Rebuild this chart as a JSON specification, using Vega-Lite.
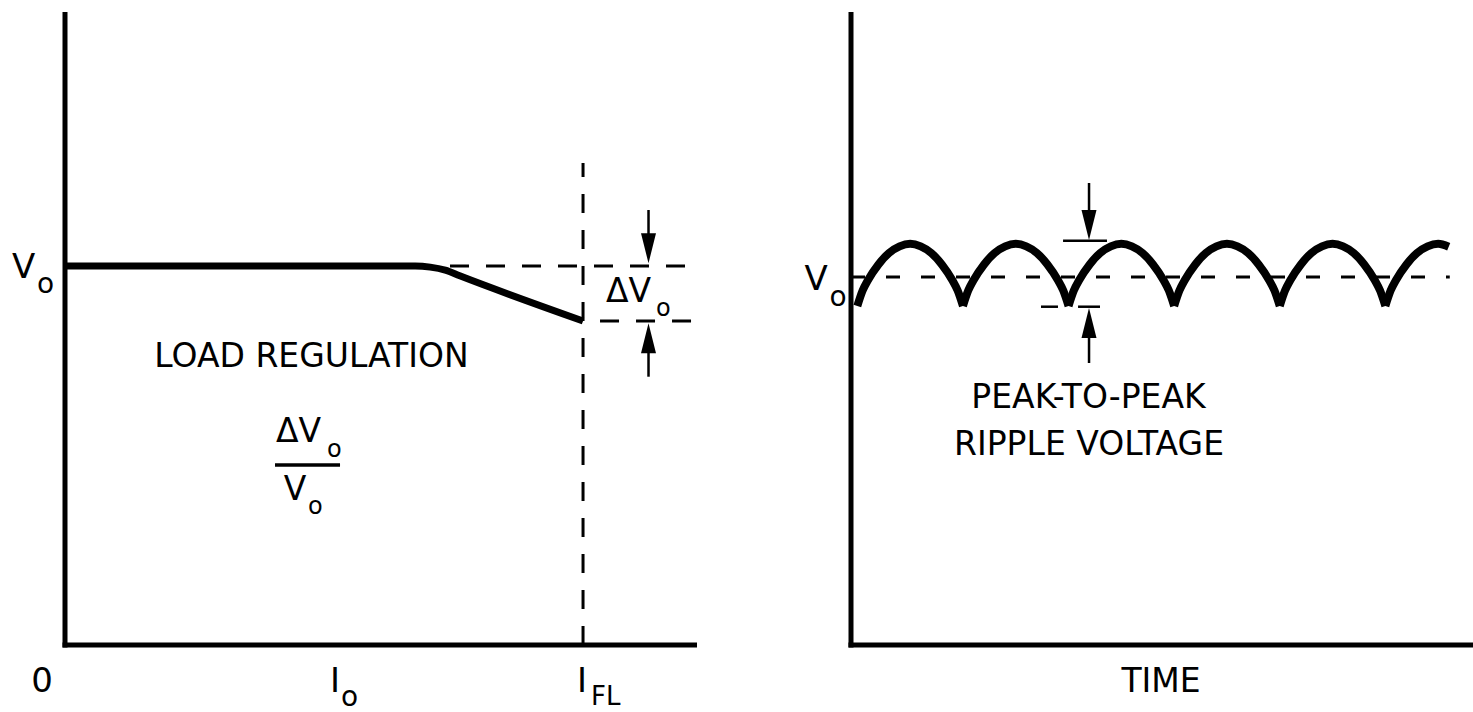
{
  "$schema": "https://vega.github.io/schema/vega-lite/v6.json",
  "width": 1473,
  "height": 712,
  "padding": 0,
  "autosize": {"type": "fit", "contains": "padding"},
  "background": "white",
  "config": {"view": {"stroke": null}},
  "layer": [
    {
      "layer": [
        {
          "data": {"values": [
            {"x": 0, "y": -0.0066, "x2": 0, "y2": 1.67},
            {"x": -0.0048, "y": 0, "x2": 1.22, "y2": 0}
          ]},
          "mark": {"type": "rule", "color": "black", "strokeWidth": 5},
          "encoding": {
            "x": {"field": "x", "type": "quantitative", "scale": {"domain": [0, 1.22], "range": [65, 697], "nice": false, "zero": false}, "axis": null},
            "y": {"field": "y", "type": "quantitative", "scale": {"domain": [0, 1.67], "range": [645, 12], "nice": false, "zero": false}, "axis": null},
            "x2": {"field": "x2"},
            "y2": {"field": "y2"}
          }
        },
        {
          "data": {"values": [
            {"x": 0.7432, "y": 1.0, "x2": 1.22, "y2": 1.0},
            {"x": 1.0328, "y": 0.8548, "x2": 1.22, "y2": 0.8548},
            {"x": 1.0, "y": 0, "x2": 1.0, "y2": 1.2716}
          ]},
          "mark": {"type": "rule", "color": "black", "strokeWidth": 3, "strokeDash": [19, 17]},
          "encoding": {
            "x": {"field": "x", "type": "quantitative", "scale": {"domain": [0, 1.22], "range": [65, 697], "nice": false, "zero": false}, "axis": null},
            "y": {"field": "y", "type": "quantitative", "scale": {"domain": [0, 1.67], "range": [645, 12], "nice": false, "zero": false}, "axis": null},
            "x2": {"field": "x2"},
            "y2": {"field": "y2"}
          }
        },
        {
          "data": {"values": [
            {"x": 1.1264, "y": 1.1476, "x2": 1.1264, "y2": 1.0466},
            {"x": 1.1264, "y": 0.7078, "x2": 1.1264, "y2": 0.8091}
          ]},
          "mark": {"type": "rule", "color": "black", "strokeWidth": 2.5},
          "encoding": {
            "x": {"field": "x", "type": "quantitative", "scale": {"domain": [0, 1.22], "range": [65, 697], "nice": false, "zero": false}, "axis": null},
            "y": {"field": "y", "type": "quantitative", "scale": {"domain": [0, 1.67], "range": [645, 12], "nice": false, "zero": false}, "axis": null},
            "x2": {"field": "x2"},
            "y2": {"field": "y2"}
          }
        },
        {
          "data": {"values": [
            {"x": 0.4054, "y": 0.4749, "x2": 0.5309, "y2": 0.4749}
          ]},
          "mark": {"type": "rule", "color": "black", "strokeWidth": 3.3},
          "encoding": {
            "x": {"field": "x", "type": "quantitative", "scale": {"domain": [0, 1.22], "range": [65, 697], "nice": false, "zero": false}, "axis": null},
            "y": {"field": "y", "type": "quantitative", "scale": {"domain": [0, 1.67], "range": [645, 12], "nice": false, "zero": false}, "axis": null},
            "x2": {"field": "x2"},
            "y2": {"field": "y2"}
          }
        },
        {
          "data": {"values": [
            {"current": 0, "vout": 1.0},
            {"current": 0.676, "vout": 1.0},
            {"current": 0.705, "vout": 0.997},
            {"current": 0.734, "vout": 0.989},
            {"current": 0.762, "vout": 0.974},
            {"current": 1.0, "vout": 0.8548}
          ]},
          "mark": {"type": "line", "color": "black", "strokeWidth": 7, "interpolate": "monotone", "strokeCap": "butt"},
          "encoding": {
            "x": {"field": "current", "type": "quantitative", "scale": {"domain": [0, 1.22], "range": [65, 697], "nice": false, "zero": false}, "axis": null},
            "y": {"field": "vout", "type": "quantitative", "scale": {"domain": [0, 1.67], "range": [645, 12], "nice": false, "zero": false}, "axis": null}
          }
        },
        {
          "data": {"values": [
            {"x": 1.1264, "y": 1.0466, "dir": "down"},
            {"x": 1.1264, "y": 0.8091, "dir": "up"}
          ]},
          "mark": {"type": "point", "filled": true, "color": "black", "opacity": 1, "size": 900, "strokeWidth": 0},
          "encoding": {
            "x": {"field": "x", "type": "quantitative", "scale": {"domain": [0, 1.22], "range": [65, 697], "nice": false, "zero": false}, "axis": null},
            "y": {"field": "y", "type": "quantitative", "scale": {"domain": [0, 1.67], "range": [645, 12], "nice": false, "zero": false}, "axis": null},
            "shape": {"field": "dir", "type": "nominal", "scale": {"domain": ["down", "up"], "range": ["M-0.5,-1L0.5,-1L0,1Z", "M-0.5,1L0.5,1L0,-1Z"]}, "legend": null}
          }
        },
        {
          "data": {"values": [
            {"x": 0.4758, "y": 0.7334, "label": "LOAD REGULATION"}
          ]},
          "mark": {"type": "text", "font": "DejaVu Sans", "fontSize": 33, "align": "center", "baseline": "alphabetic", "color": "black"},
          "encoding": {
            "x": {"field": "x", "type": "quantitative", "scale": {"domain": [0, 1.22], "range": [65, 697], "nice": false, "zero": false}, "axis": null},
            "y": {"field": "y", "type": "quantitative", "scale": {"domain": [0, 1.67], "range": [645, 12], "nice": false, "zero": false}, "axis": null},
            "text": {"field": "label"}
          }
        },
        {
          "data": {"values": [
            {"x": 0.4073, "y": 0.5363, "label": "ΔV"},
            {"x": 1.0443, "y": 0.9049, "label": "ΔV"},
            {"x": 0.4222, "y": 0.3825, "label": "V"}
          ]},
          "mark": {"type": "text", "font": "DejaVu Sans", "fontSize": 33, "align": "left", "baseline": "alphabetic", "color": "black"},
          "encoding": {
            "x": {"field": "x", "type": "quantitative", "scale": {"domain": [0, 1.22], "range": [65, 697], "nice": false, "zero": false}, "axis": null},
            "y": {"field": "y", "type": "quantitative", "scale": {"domain": [0, 1.67], "range": [645, 12], "nice": false, "zero": false}, "axis": null},
            "text": {"field": "label"}
          }
        },
        {
          "data": {"values": [
            {"x": -0.1023, "y": 0.9682, "label": "V"},
            {"x": 0.5116, "y": -0.124, "label": "I"},
            {"x": 0.9884, "y": -0.124, "label": "I"}
          ]},
          "mark": {"type": "text", "font": "DejaVu Sans", "fontSize": 34, "align": "left", "baseline": "alphabetic", "color": "black"},
          "encoding": {
            "x": {"field": "x", "type": "quantitative", "scale": {"domain": [0, 1.22], "range": [65, 697], "nice": false, "zero": false}, "axis": null},
            "y": {"field": "y", "type": "quantitative", "scale": {"domain": [0, 1.67], "range": [645, 12], "nice": false, "zero": false}, "axis": null},
            "text": {"field": "label"}
          }
        },
        {
          "data": {"values": [
            {"x": -0.0444, "y": -0.124, "label": "0"}
          ]},
          "mark": {"type": "text", "font": "DejaVu Sans", "fontSize": 34, "align": "center", "baseline": "alphabetic", "color": "black"},
          "encoding": {
            "x": {"field": "x", "type": "quantitative", "scale": {"domain": [0, 1.22], "range": [65, 697], "nice": false, "zero": false}, "axis": null},
            "y": {"field": "y", "type": "quantitative", "scale": {"domain": [0, 1.67], "range": [645, 12], "nice": false, "zero": false}, "axis": null},
            "text": {"field": "label"}
          }
        },
        {
          "data": {"values": [
            {"x": 0.5058, "y": 0.496, "label": "o"},
            {"x": 1.1409, "y": 0.868, "label": "o"},
            {"x": 0.4691, "y": 0.3456, "label": "o"}
          ]},
          "mark": {"type": "text", "font": "DejaVu Sans", "fontSize": 24, "align": "left", "baseline": "alphabetic", "color": "black"},
          "encoding": {
            "x": {"field": "x", "type": "quantitative", "scale": {"domain": [0, 1.22], "range": [65, 697], "nice": false, "zero": false}, "axis": null},
            "y": {"field": "y", "type": "quantitative", "scale": {"domain": [0, 1.67], "range": [645, 12], "nice": false, "zero": false}, "axis": null},
            "text": {"field": "label"}
          }
        },
        {
          "data": {"values": [
            {"x": -0.0541, "y": 0.9287, "label": "o"},
            {"x": 0.5328, "y": -0.1609, "label": "o"}
          ]},
          "mark": {"type": "text", "font": "DejaVu Sans", "fontSize": 28, "align": "left", "baseline": "alphabetic", "color": "black"},
          "encoding": {
            "x": {"field": "x", "type": "quantitative", "scale": {"domain": [0, 1.22], "range": [65, 697], "nice": false, "zero": false}, "axis": null},
            "y": {"field": "y", "type": "quantitative", "scale": {"domain": [0, 1.67], "range": [645, 12], "nice": false, "zero": false}, "axis": null},
            "text": {"field": "label"}
          }
        },
        {
          "data": {"values": [
            {"x": 1.0154, "y": -0.1583, "label": "FL"}
          ]},
          "mark": {"type": "text", "font": "DejaVu Sans", "fontSize": 26, "align": "left", "baseline": "alphabetic", "color": "black"},
          "encoding": {
            "x": {"field": "x", "type": "quantitative", "scale": {"domain": [0, 1.22], "range": [65, 697], "nice": false, "zero": false}, "axis": null},
            "y": {"field": "y", "type": "quantitative", "scale": {"domain": [0, 1.67], "range": [645, 12], "nice": false, "zero": false}, "axis": null},
            "text": {"field": "label"}
          }
        }
      ]
    },
    {
      "layer": [
        {
          "data": {"values": [
            {"x": 0, "y": -0.0068, "x2": 0, "y2": 1.72},
            {"x": -0.024, "y": 0, "x2": 5.89, "y2": 0}
          ]},
          "mark": {"type": "rule", "color": "black", "strokeWidth": 5},
          "encoding": {
            "x": {"field": "x", "type": "quantitative", "scale": {"domain": [0, 5.89], "range": [851, 1473], "nice": false, "zero": false}, "axis": null},
            "y": {"field": "y", "type": "quantitative", "scale": {"domain": [0, 1.72], "range": [645, 12], "nice": false, "zero": false}, "axis": null},
            "x2": {"field": "x2"},
            "y2": {"field": "y2"}
          }
        },
        {
          "data": {"values": [
            {"x": 0, "y": 1.0, "x2": 5.67, "y2": 1.0}
          ]},
          "mark": {"type": "rule", "color": "black", "strokeWidth": 3, "strokeDash": [14, 21]},
          "encoding": {
            "x": {"field": "x", "type": "quantitative", "scale": {"domain": [0, 5.89], "range": [851, 1473], "nice": false, "zero": false}, "axis": null},
            "y": {"field": "y", "type": "quantitative", "scale": {"domain": [0, 1.72], "range": [645, 12], "nice": false, "zero": false}, "axis": null},
            "x2": {"field": "x2"},
            "y2": {"field": "y2"}
          }
        },
        {
          "data": {"values": [
            {"x": 2.008, "y": 1.0986, "x2": 2.424, "y2": 1.0986},
            {"x": 1.799, "y": 0.9192, "x2": 1.96, "y2": 0.9192},
            {"x": 2.15, "y": 0.9192, "x2": 2.358, "y2": 0.9192},
            {"x": 2.254, "y": 1.2553, "x2": 2.254, "y2": 1.1412},
            {"x": 2.254, "y": 0.7663, "x2": 2.254, "y2": 0.8749}
          ]},
          "mark": {"type": "rule", "color": "black", "strokeWidth": 2.5},
          "encoding": {
            "x": {"field": "x", "type": "quantitative", "scale": {"domain": [0, 5.89], "range": [851, 1473], "nice": false, "zero": false}, "axis": null},
            "y": {"field": "y", "type": "quantitative", "scale": {"domain": [0, 1.72], "range": [645, 12], "nice": false, "zero": false}, "axis": null},
            "x2": {"field": "x2"},
            "y2": {"field": "y2"}
          }
        },
        {
          "data": {"values": [
            {"t": 0.06, "v": 0.921, "arc": 0}, {"t": 0.11, "v": 0.963, "arc": 0}, {"t": 0.16, "v": 0.991, "arc": 0}, {"t": 0.26, "v": 1.034, "arc": 0}, {"t": 0.36, "v": 1.065, "arc": 0}, {"t": 0.46, "v": 1.083, "arc": 0}, {"t": 0.56, "v": 1.09, "arc": 0}, {"t": 0.66, "v": 1.083, "arc": 0}, {"t": 0.76, "v": 1.065, "arc": 0}, {"t": 0.86, "v": 1.034, "arc": 0}, {"t": 0.96, "v": 0.991, "arc": 0}, {"t": 1.01, "v": 0.963, "arc": 0}, {"t": 1.06, "v": 0.921, "arc": 0},
            {"t": 1.06, "v": 0.921, "arc": 1}, {"t": 1.11, "v": 0.963, "arc": 1}, {"t": 1.16, "v": 0.991, "arc": 1}, {"t": 1.26, "v": 1.034, "arc": 1}, {"t": 1.36, "v": 1.065, "arc": 1}, {"t": 1.46, "v": 1.083, "arc": 1}, {"t": 1.56, "v": 1.09, "arc": 1}, {"t": 1.66, "v": 1.083, "arc": 1}, {"t": 1.76, "v": 1.065, "arc": 1}, {"t": 1.86, "v": 1.034, "arc": 1}, {"t": 1.96, "v": 0.991, "arc": 1}, {"t": 2.01, "v": 0.963, "arc": 1}, {"t": 2.06, "v": 0.921, "arc": 1},
            {"t": 2.06, "v": 0.921, "arc": 2}, {"t": 2.11, "v": 0.963, "arc": 2}, {"t": 2.16, "v": 0.991, "arc": 2}, {"t": 2.26, "v": 1.034, "arc": 2}, {"t": 2.36, "v": 1.065, "arc": 2}, {"t": 2.46, "v": 1.083, "arc": 2}, {"t": 2.56, "v": 1.09, "arc": 2}, {"t": 2.66, "v": 1.083, "arc": 2}, {"t": 2.76, "v": 1.065, "arc": 2}, {"t": 2.86, "v": 1.034, "arc": 2}, {"t": 2.96, "v": 0.991, "arc": 2}, {"t": 3.01, "v": 0.963, "arc": 2}, {"t": 3.06, "v": 0.921, "arc": 2},
            {"t": 3.06, "v": 0.921, "arc": 3}, {"t": 3.11, "v": 0.963, "arc": 3}, {"t": 3.16, "v": 0.991, "arc": 3}, {"t": 3.26, "v": 1.034, "arc": 3}, {"t": 3.36, "v": 1.065, "arc": 3}, {"t": 3.46, "v": 1.083, "arc": 3}, {"t": 3.56, "v": 1.09, "arc": 3}, {"t": 3.66, "v": 1.083, "arc": 3}, {"t": 3.76, "v": 1.065, "arc": 3}, {"t": 3.86, "v": 1.034, "arc": 3}, {"t": 3.96, "v": 0.991, "arc": 3}, {"t": 4.01, "v": 0.963, "arc": 3}, {"t": 4.06, "v": 0.921, "arc": 3},
            {"t": 4.06, "v": 0.921, "arc": 4}, {"t": 4.11, "v": 0.963, "arc": 4}, {"t": 4.16, "v": 0.991, "arc": 4}, {"t": 4.26, "v": 1.034, "arc": 4}, {"t": 4.36, "v": 1.065, "arc": 4}, {"t": 4.46, "v": 1.083, "arc": 4}, {"t": 4.56, "v": 1.09, "arc": 4}, {"t": 4.66, "v": 1.083, "arc": 4}, {"t": 4.76, "v": 1.065, "arc": 4}, {"t": 4.86, "v": 1.034, "arc": 4}, {"t": 4.96, "v": 0.991, "arc": 4}, {"t": 5.01, "v": 0.963, "arc": 4}, {"t": 5.06, "v": 0.921, "arc": 4},
            {"t": 5.06, "v": 0.921, "arc": 5}, {"t": 5.11, "v": 0.963, "arc": 5}, {"t": 5.16, "v": 0.991, "arc": 5}, {"t": 5.26, "v": 1.034, "arc": 5}, {"t": 5.36, "v": 1.065, "arc": 5}, {"t": 5.46, "v": 1.083, "arc": 5}, {"t": 5.56, "v": 1.09, "arc": 5}, {"t": 5.66, "v": 1.082, "arc": 5}
          ]},
          "mark": {"type": "line", "color": "black", "strokeWidth": 8, "interpolate": "monotone", "strokeCap": "butt"},
          "encoding": {
            "x": {"field": "t", "type": "quantitative", "scale": {"domain": [0, 5.89], "range": [851, 1473], "nice": false, "zero": false}, "axis": null},
            "y": {"field": "v", "type": "quantitative", "scale": {"domain": [0, 1.72], "range": [645, 12], "nice": false, "zero": false}, "axis": null},
            "detail": {"field": "arc", "type": "nominal"}
          }
        },
        {
          "data": {"values": [
            {"x": 2.254, "y": 1.1412, "dir": "down"},
            {"x": 2.254, "y": 0.8749, "dir": "up"}
          ]},
          "mark": {"type": "point", "filled": true, "color": "black", "opacity": 1, "size": 900, "strokeWidth": 0},
          "encoding": {
            "x": {"field": "x", "type": "quantitative", "scale": {"domain": [0, 5.89], "range": [851, 1473], "nice": false, "zero": false}, "axis": null},
            "y": {"field": "y", "type": "quantitative", "scale": {"domain": [0, 1.72], "range": [645, 12], "nice": false, "zero": false}, "axis": null},
            "shape": {"field": "dir", "type": "nominal", "scale": {"domain": ["down", "up"], "range": ["M-0.5,-1L0.5,-1L0,1Z", "M-0.5,1L0.5,1L0,-1Z"]}, "legend": null}
          }
        },
        {
          "data": {"values": [
            {"x": 2.249, "y": 0.644, "label": "PEAK-TO-PEAK"},
            {"x": 2.254, "y": 0.5163, "label": "RIPPLE VOLTAGE"},
            {"x": 2.936, "y": -0.1277, "label": "TIME"}
          ]},
          "mark": {"type": "text", "font": "DejaVu Sans", "fontSize": 33, "align": "center", "baseline": "alphabetic", "color": "black"},
          "encoding": {
            "x": {"field": "x", "type": "quantitative", "scale": {"domain": [0, 5.89], "range": [851, 1473], "nice": false, "zero": false}, "axis": null},
            "y": {"field": "y", "type": "quantitative", "scale": {"domain": [0, 1.72], "range": [645, 12], "nice": false, "zero": false}, "axis": null},
            "text": {"field": "label"}
          }
        },
        {
          "data": {"values": [
            {"x": -0.4403, "y": 0.9646, "label": "V"}
          ]},
          "mark": {"type": "text", "font": "DejaVu Sans", "fontSize": 34, "align": "left", "baseline": "alphabetic", "color": "black"},
          "encoding": {
            "x": {"field": "x", "type": "quantitative", "scale": {"domain": [0, 5.89], "range": [851, 1473], "nice": false, "zero": false}, "axis": null},
            "y": {"field": "y", "type": "quantitative", "scale": {"domain": [0, 1.72], "range": [645, 12], "nice": false, "zero": false}, "axis": null},
            "text": {"field": "label"}
          }
        },
        {
          "data": {"values": [
            {"x": -0.2036, "y": 0.9211, "label": "o"}
          ]},
          "mark": {"type": "text", "font": "DejaVu Sans", "fontSize": 28, "align": "left", "baseline": "alphabetic", "color": "black"},
          "encoding": {
            "x": {"field": "x", "type": "quantitative", "scale": {"domain": [0, 5.89], "range": [851, 1473], "nice": false, "zero": false}, "axis": null},
            "y": {"field": "y", "type": "quantitative", "scale": {"domain": [0, 1.72], "range": [645, 12], "nice": false, "zero": false}, "axis": null},
            "text": {"field": "label"}
          }
        }
      ],
      "resolve": {"scale": {"shape": "independent"}}
    }
  ],
  "resolve": {"scale": {"x": "independent", "y": "independent", "shape": "independent"}}
}
